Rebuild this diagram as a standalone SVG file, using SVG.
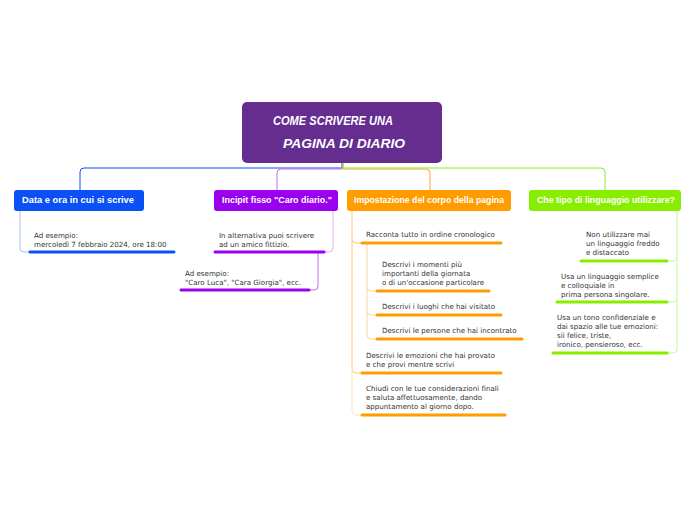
<svg xmlns="http://www.w3.org/2000/svg" width="696" height="520" viewBox="0 0 696 520">
<style>
.t{font-family:"DejaVu Sans",Verdana,sans-serif;font-size:7.1px;fill:#333}
.h{font-family:"Liberation Sans",Arial,sans-serif;font-size:8.5px;fill:#fff;font-weight:bold}
.r{font-family:"Liberation Sans",Arial,sans-serif;font-size:13px;fill:#fff;font-style:italic;font-weight:bold}
.c{fill:none;stroke-width:1}
.u{stroke-width:3;stroke-linecap:round}
</style>
<rect width="696" height="520" fill="#fff"/>
<g id="connectors">
<path class="c" stroke="#0a4ff2" d="M342 163V168H84Q80 168 80 172V190"/>
<path class="c" stroke="#c070f0" d="M342 163V169H281Q277 169 277 173V190"/>
<path class="c" stroke="#ffa030" d="M343 163V169H426Q430 169 430 173V190"/>
<path class="c" stroke="#88ee22" d="M343 163V168H601Q605 168 605 172V190"/>
<path class="c" stroke="#a8bff8" d="M20 211V248Q20 252 24 252H29"/>
<path class="c" stroke="#e0b0f8" d="M333 211V248Q333 252 329 252H324"/>
<path class="c" stroke="#c070f0" d="M318 252V286Q318 290 314 290H309"/>
<path class="c" stroke="#ffc870" d="M352 211V239Q352 243 356 243H361"/>
<path class="c" stroke="#ffc870" d="M352 239V369Q352 373 356 373H361"/>
<path class="c" stroke="#ffe4b8" d="M352 369V411Q352 415 356 415H361"/>
<path class="c" stroke="#ffd49a" d="M367 243V287Q367 291 371 291H376"/>
<path class="c" stroke="#ffd49a" d="M367 287V311Q367 315 371 315H376"/>
<path class="c" stroke="#ffd49a" d="M367 311V335Q367 339 371 339H376"/>
<path class="c" stroke="#c8f898" d="M677 211V257Q677 261 673 261H667"/>
<path class="c" stroke="#c8f898" d="M677 257V298Q677 302 673 302H667"/>
<path class="c" stroke="#c8f898" d="M677 298V349Q677 353 673 353H667"/>
</g>
<g id="root">
<rect x="242" y="102" width="200" height="61" rx="5" fill="#662d91"/>
<text class="r" x="273" y="125" textLength="120" lengthAdjust="spacingAndGlyphs">COME SCRIVERE UNA</text>
<text class="r" x="283" y="148" textLength="122" lengthAdjust="spacingAndGlyphs">PAGINA DI DIARIO</text>
</g>
<g id="n-data">
<rect x="14" y="190" width="130" height="21" rx="3" fill="#0b50f5"/>
<text class="h" x="22" y="203" textLength="112" lengthAdjust="spacingAndGlyphs">Data e ora in cui si scrive</text>
</g>
<g id="n-data-1">
<text class="t" x="34" y="238">Ad esempio:</text>
<text class="t" x="34" y="247">mercoledì 7 febbraio 2024, ore 18:00</text>
<line class="u" x1="30" y1="252" x2="174" y2="252" stroke="#0b50f5"/>
</g>
<g id="n-incipit">
<rect x="214" y="190" width="124" height="21" rx="3" fill="#9b00ee"/>
<text class="h" x="222" y="203" textLength="110" lengthAdjust="spacingAndGlyphs">Incipit fisso "Caro diario."</text>
</g>
<g id="n-incipit-1">
<text class="t" x="219" y="238">In alternativa puoi scrivere</text>
<text class="t" x="219" y="247">ad un amico fittizio.</text>
<line class="u" x1="215" y1="252" x2="324" y2="252" stroke="#9b00ee"/>
</g>
<g id="n-incipit-2">
<text class="t" x="185" y="276">Ad esempio:</text>
<text class="t" x="185" y="285">"Caro Luca", "Cara Giorgia", ecc.</text>
<line class="u" x1="181" y1="290" x2="309" y2="290" stroke="#9b00ee"/>
</g>
<g id="n-corpo">
<rect x="347" y="190" width="164" height="21" rx="3" fill="#ff9c00"/>
<text class="h" x="354" y="203" textLength="150" lengthAdjust="spacingAndGlyphs">Impostazione del corpo della pagina</text>
</g>
<g id="n-corpo-1">
<text class="t" x="366" y="237">Racconta tutto in ordine cronologico</text>
<line class="u" x1="362" y1="243" x2="501" y2="243" stroke="#ff9c00"/>
</g>
<g id="n-corpo-1a">
<text class="t" x="382" y="267">Descrivi i momenti più</text>
<text class="t" x="382" y="276">importanti della giornata</text>
<text class="t" x="382" y="285">o di un'occasione particolare</text>
<line class="u" x1="377" y1="291" x2="489" y2="291" stroke="#ff9c00"/>
</g>
<g id="n-corpo-1b">
<text class="t" x="382" y="309">Descrivi i luoghi che hai visitato</text>
<line class="u" x1="377" y1="315" x2="501" y2="315" stroke="#ff9c00"/>
</g>
<g id="n-corpo-1c">
<text class="t" x="382" y="333">Descrivi le persone che hai incontrato</text>
<line class="u" x1="377" y1="339" x2="522" y2="339" stroke="#ff9c00"/>
</g>
<g id="n-corpo-2">
<text class="t" x="366" y="358">Descrivi le emozioni che hai provato</text>
<text class="t" x="366" y="367">e che provi mentre scrivi</text>
<line class="u" x1="362" y1="373" x2="501" y2="373" stroke="#ff9c00"/>
</g>
<g id="n-corpo-3">
<text class="t" x="366" y="391">Chiudi con le tue considerazioni finali</text>
<text class="t" x="366" y="400">e saluta affettuosamente, dando</text>
<text class="t" x="366" y="409">appuntamento al giorno dopo.</text>
<line class="u" x1="362" y1="415" x2="505" y2="415" stroke="#ff9c00"/>
</g>
<g id="n-linguaggio">
<rect x="529" y="190" width="152" height="21" rx="3" fill="#88ee00"/>
<text class="h" x="537" y="203" textLength="138" lengthAdjust="spacingAndGlyphs">Che tipo di linguaggio utilizzare?</text>
</g>
<g id="n-ling-1">
<text class="t" x="586" y="237">Non utilizzare mai</text>
<text class="t" x="586" y="246">un linguaggio freddo</text>
<text class="t" x="586" y="255">e distaccato</text>
<line class="u" x1="581" y1="261" x2="667" y2="261" stroke="#88ee00"/>
</g>
<g id="n-ling-2">
<text class="t" x="561" y="279">Usa un linguaggio semplice</text>
<text class="t" x="561" y="288">e colloquiale in</text>
<text class="t" x="561" y="297">prima persona singolare.</text>
<line class="u" x1="557" y1="302" x2="667" y2="302" stroke="#88ee00"/>
</g>
<g id="n-ling-3">
<text class="t" x="557" y="320">Usa un tono confidenziale e</text>
<text class="t" x="557" y="329">dai spazio alle tue emozioni:</text>
<text class="t" x="557" y="338">sii felice, triste,</text>
<text class="t" x="557" y="347">ironico, pensieroso, ecc.</text>
<line class="u" x1="553" y1="353" x2="667" y2="353" stroke="#88ee00"/>
</g>
</svg>
